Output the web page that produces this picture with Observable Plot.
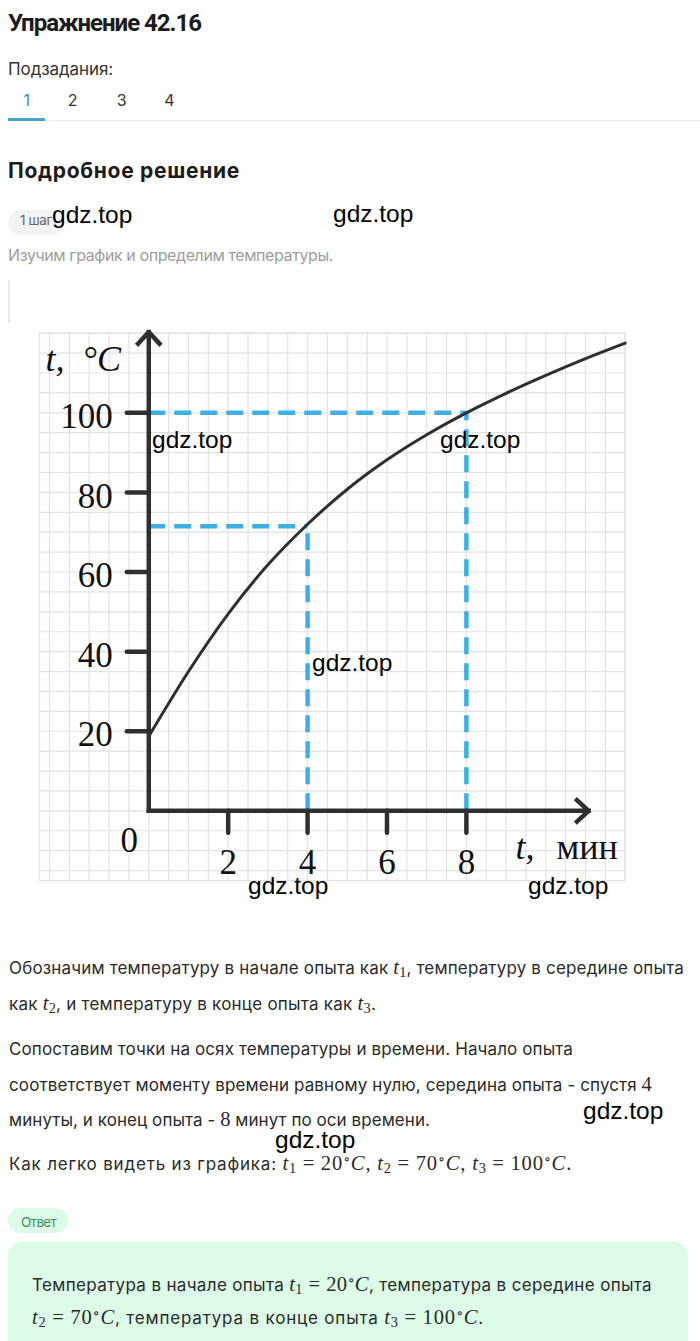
<!DOCTYPE html>
<html><head><meta charset="utf-8">
<script src="https://cdn.jsdelivr.net/npm/d3@7"></script>
<script src="https://cdn.jsdelivr.net/npm/@observablehq/plot@0.6"></script>
<style>
html,body{margin:0;padding:0;background:#fff;}
body{position:relative;width:700px;height:1341px;overflow:hidden;font-family:Inter,Roboto,"Noto Sans",sans-serif;color:#2a2a2a;}
.t{position:absolute;white-space:nowrap;line-height:24px;}
.m{font-family:"Liberation Serif","DejaVu Serif",serif;font-size:1.21em;line-height:0;}
.m i{font-style:italic;}
.m sub{font-size:0.7em;vertical-align:-0.22em;line-height:0;}
.m sup{font-size:0.7em;vertical-align:0.42em;line-height:0;}
.m .r{margin:0 0.2778em;}
.wm{position:absolute;white-space:nowrap;line-height:24px;font-family:"Liberation Sans",Arial,sans-serif;font-size:24.5px;color:#000;z-index:5;}
.pill{position:absolute;border-radius:13px;}
</style></head><body>

<div class="t" data-w="193" style="left:8px;top:8px;line-height:30px;font-family:Roboto,Inter,sans-serif;font-size:24px;font-weight:700;color:#1b1b1b;">Упражнение 42.16</div>
<div class="t" data-w="105" style="left:8px;top:56.8px;font-size:17px;color:#333;">Подзадания:</div>
<div class="t" style="left:6.7px;width:40px;text-align:center;top:88.2px;font-size:16px;color:#3b8db5;">1</div>
<div class="t" style="left:52.7px;width:40px;text-align:center;top:88.2px;font-size:16px;color:#333;">2</div>
<div class="t" style="left:101.7px;width:40px;text-align:center;top:88.2px;font-size:16px;color:#333;">3</div>
<div class="t" style="left:149.3px;width:40px;text-align:center;top:88.2px;font-size:16px;color:#333;">4</div>
<div style="position:absolute;left:8px;top:118px;width:37px;height:2.6px;background:#49a4cc;"></div>
<div style="position:absolute;left:45px;top:120px;width:655px;height:1px;background:#ececec;"></div>

<div class="t" data-w="232" style="left:8px;top:157px;line-height:28px;font-size:21px;font-weight:700;color:#1b1b1b;">Подробное решение</div>
<div class="pill" style="left:8px;top:210px;width:56px;height:25px;background:#f2f3f4;"></div>
<div class="t" data-w="32" style="left:20px;top:208.3px;font-size:13.5px;color:#666;">1 шаг</div>
<div class="t" data-w="325" style="left:8px;top:243.2px;font-size:16px;color:#9d9d9d;">Изучим график и определим температуры.</div>
<div style="position:absolute;left:8px;top:280px;width:2px;height:43px;background:#e8e8e8;"></div>

<div id="chart" style="position:absolute;left:0;top:300px;width:700px;height:600px;"></div>

<div class="t" data-w="675" style="left:9px;top:956.3px;font-size:17px;">Обозначим температуру в начале опыта как <span class="m"><i>t</i><sub>1</sub></span>, температуру в середине опыта</div>
<div class="t" data-w="367" style="left:9px;top:991.8px;font-size:17px;">как <span class="m"><i>t</i><sub>2</sub></span>, и температуру в конце опыта как <span class="m"><i>t</i><sub>3</sub></span>.</div>
<div class="t" data-w="564" style="left:9px;top:1037.3px;font-size:17px;">Сопоставим точки на осях температуры и времени. Начало опыта</div>
<div class="t" data-w="643" style="left:9px;top:1072.8px;font-size:17px;">соответствует моменту времени равному нулю, середина опыта - спустя <span class="m">4</span></div>
<div class="t" data-w="421" style="left:9px;top:1108.3px;font-size:17px;">минуты, и конец опыта - <span class="m">8</span> минут по оси времени.</div>
<div class="t" data-w="563" style="left:9px;top:1152.3px;font-size:17px;">Как легко видеть из графика: <span class="m"><i>t</i><sub>1</sub><span class="r">=</span>20<sup>∘</sup><i>C</i>, <i>t</i><sub>2</sub><span class="r">=</span>70<sup>∘</sup><i>C</i>, <i>t</i><sub>3</sub><span class="r">=</span>100<sup>∘</sup><i>C</i>.</span></div>

<div class="pill" style="left:8px;top:1208px;width:60px;height:25px;background:#dcfce7;"></div>
<div class="t" data-w="35" style="left:21px;top:1209.7px;font-size:13.5px;color:#3a935a;">Ответ</div>
<div style="position:absolute;left:8px;top:1242px;width:680px;height:140px;border-radius:14px;background:#dcfce7;"></div>
<div class="t" data-w="620" style="left:32px;top:1272.8px;font-size:17px;">Температура в начале опыта <span class="m"><i>t</i><sub>1</sub><span class="r">=</span>20<sup>∘</sup><i>C</i></span>, температура в середине опыта</div>
<div class="t" data-w="452" style="left:32px;top:1306.3px;font-size:17px;"><span class="m"><i>t</i><sub>2</sub><span class="r">=</span>70<sup>∘</sup><i>C</i></span>, температура в конце опыта <span class="m"><i>t</i><sub>3</sub><span class="r">=</span>100<sup>∘</sup><i>C</i></span>.</div>

<div class="wm" style="left:52px;top:202.5px;">gdz.top</div>
<div class="wm" style="left:333px;top:202px;">gdz.top</div>
<div class="wm" style="left:152px;top:428px;">gdz.top</div>
<div class="wm" style="left:440px;top:428px;">gdz.top</div>
<div class="wm" style="left:312px;top:651.4px;">gdz.top</div>
<div class="wm" style="left:248px;top:874px;">gdz.top</div>
<div class="wm" style="left:528px;top:874px;">gdz.top</div>
<div class="wm" style="left:583px;top:1099px;">gdz.top</div>
<div class="wm" style="left:275px;top:1128px;">gdz.top</div>

<script>
// ---- data ----
const xTicks = [2, 4, 6, 8];                 // time, min
const yTicks = [20, 40, 60, 80, 100];        // temperature, °C
const timeMin = [0, 1, 2, 3, 4, 5, 6, 7, 8, 9, 10, 11, 12];
const tempC   = [18.7, 35, 49.5, 61.8, 72, 80.8, 88.2, 94.5, 100, 104.9, 109.4, 113.6, 117.5];
const readTime = [4, 8];
const readTemp = [71.5, 100];
const xDomain = [-2.75, 12];
const yDomain = [-17.5, 120];
const axisEndX = 11.08, axisEndY = 120.3;

const curve = timeMin.map((t, i) => ({t, T: tempC[i]}));
const readings = readTime.map((t, i) => ({t, T: readTemp[i]}));
const axes = [{x1: 0, y1: 0, x2: axisEndX, y2: 0}, {x1: 0, y1: 0, x2: 0, y2: axisEndY}];

const ink = "#2f2f2f", blue = "#3cb0e6", gridC = "#e2e2e2";
const serif = "'Liberation Serif', 'DejaVu Serif', serif";
const tickShape = {draw(ctx, l) { ctx.moveTo(0, 0); ctx.lineTo(0, -l); }};

const chart = Plot.plot({
  width: 700, height: 600,
  marginTop: 32.7, marginBottom: 20, marginLeft: 39.1, marginRight: 75.3,
  x: {domain: xDomain, axis: null},
  y: {domain: yDomain, axis: null},
  style: {background: "transparent", overflow: "visible"},
  marks: [
    Plot.gridX({interval: 0.5, stroke: gridC, strokeOpacity: 1, strokeWidth: 1.2}),
    Plot.gridY({interval: 5, stroke: gridC, strokeOpacity: 1, strokeWidth: 1.2}),
    Plot.frame({stroke: gridC, strokeWidth: 1.2}),
    Plot.ruleY(readings, {y: "T", x1: 0, x2: "t", stroke: blue, strokeWidth: 4.5, strokeDasharray: "17,9"}),
    Plot.ruleX(readings, {x: "t", y1: 0, y2: "T", stroke: blue, strokeWidth: 4.5, strokeDasharray: "17,9"}),
    Plot.line(curve, {x: "t", y: "T", curve: "monotone-x", stroke: ink, strokeWidth: 3}),
    Plot.arrow(axes, {x1: "x1", y1: "y1", x2: "x2", y2: "y2", stroke: ink, strokeWidth: 4.5,
      headLength: 5.3, headAngle: 85, strokeLinecap: "square", strokeLinejoin: "miter"}),
    Plot.vector(xTicks, {x: d => d, y: 0, length: 22, rotate: 180, anchor: "start", shape: tickShape, stroke: ink, strokeWidth: 4.5}),
    Plot.vector(yTicks, {x: 0, y: d => d, length: 22, rotate: 270, anchor: "start", shape: tickShape, stroke: ink, strokeWidth: 4.5}),
    Plot.text(xTicks, {x: d => d, y: 0, dy: 52.3, text: d => String(d), fontFamily: serif, fontSize: 35, fill: "#111"}),
    Plot.text(yTicks, {x: 0, y: d => d, dx: -36, dy: 4, text: d => String(d), textAnchor: "end", fontFamily: serif, fontSize: 35, fill: "#111"}),
    Plot.text(["0"], {x: 0, y: 0, dx: -19.6, dy: 30.3, text: d => d, fontFamily: serif, fontSize: 35, fill: "#111"}),
    Plot.text(["t,\u00a0\u00a0°C"], {frameAnchor: "top-left", lineAnchor: "middle", dx: 5.9, dy: 25.8, text: d => d, textAnchor: "start", fontStyle: "italic", fontFamily: serif, fontSize: 36, fill: "#111"}),
    Plot.text(["t,"], {frameAnchor: "top-left", lineAnchor: "middle", dx: 475.9, dy: 513.8, text: d => d, textAnchor: "start", fontStyle: "italic", fontFamily: serif, fontSize: 36, fill: "#111"}),
    Plot.text(["мин"], {frameAnchor: "top-left", lineAnchor: "middle", dx: 516.9, dy: 513.8, text: d => d, textAnchor: "start", fontFamily: serif, fontSize: 36, fill: "#111"})
  ]
});
document.getElementById("chart").appendChild(chart);

function fit() {
  document.querySelectorAll("[data-w]").forEach(el => {
    el.style.letterSpacing = "0px";
    const w = el.getBoundingClientRect().width;
    const n = el.textContent.length;
    el.style.letterSpacing = ((+el.dataset.w - w) / n) + "px";
  });
}
fit();
if (document.fonts && document.fonts.ready) document.fonts.ready.then(fit);
</script>
</body></html>
